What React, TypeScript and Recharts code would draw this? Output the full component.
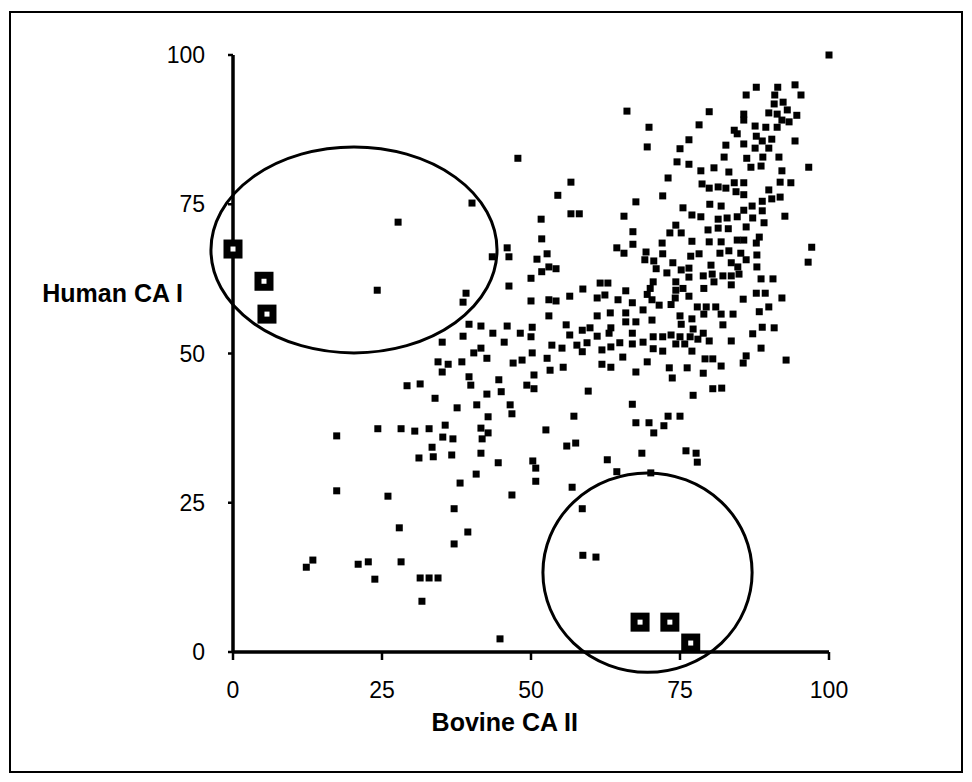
import React from 'react';
import { ScatterChart, Scatter, XAxis, YAxis, ReferenceArea } from 'recharts';

const xTicks = [0, 25, 50, 75, 100];
const yTicks = [0, 25, 50, 75, 100];

// each pair is [bovine CA II, human CA I]
const boxedPts = [[0, 67.5], [5.2, 62.1], [5.7, 56.6], [68.3, 5.0], [73.3, 5.0], [76.8, 1.5]];

const leftOvalPts = [[27.7, 72.0], [24.2, 60.6], [40.1, 75.2]];

const lowerLeftPts = [
  [29.2, 44.6], [31.4, 44.9], [33.9, 42.5], [34.4, 48.6],
  [17.4, 36.2], [24.3, 37.4], [28.2, 37.4], [30.5, 37.0], [32.9, 37.4], [33.4, 34.3], [31.2, 32.5], [33.6, 32.7],
  [17.4, 27.0], [26.0, 26.1], [27.9, 20.8], [13.4, 15.4], [12.3, 14.2], [21.0, 14.7], [22.7, 15.1], [28.2, 15.1],
  [23.8, 12.2], [31.4, 12.4], [32.9, 12.4], [34.4, 12.4], [31.7, 8.5],
];

const lowerMidPts = [
  [36.7, 33.0], [41.6, 33.3], [44.5, 31.7], [50.3, 32.0], [50.8, 30.8], [40.8, 29.8], [38.1, 28.3], [50.8, 28.6],
  [46.8, 26.3], [56.9, 27.6], [62.8, 32.2], [64.4, 30.2], [37.1, 24.0], [58.6, 24.0], [39.4, 20.1], [37.1, 18.1],
  [58.7, 16.2], [60.9, 15.9], [44.8, 2.2], [68.6, 33.3], [76.0, 33.7], [77.7, 33.3], [77.9, 31.8], [70.1, 30.0],
];

const upperMidPts = [
  [66.1, 90.6], [47.8, 82.7], [56.7, 78.7], [54.5, 76.5], [56.7, 73.4], [58.1, 73.4], [51.7, 72.5], [67.6, 75.4],
  [65.6, 73.0], [67.1, 70.4], [51.8, 69.2], [67.1, 68.3], [64.4, 67.7], [46.0, 67.7],
];

const centralPts = [
  [43.5, 66.2], [46.3, 66.2], [51.0, 65.8], [52.7, 66.7], [53.0, 64.5], [51.8, 63.7], [54.2, 64.2], [50.0, 62.6],
  [65.6, 66.8], [46.3, 61.3], [39.1, 60.1], [38.6, 58.6], [50.0, 58.8], [53.0, 59.0], [54.2, 58.8], [56.5, 59.6],
  [58.7, 60.8], [61.6, 61.8], [62.9, 61.8], [61.1, 59.3], [62.4, 59.8], [64.6, 59.0], [65.9, 60.5], [67.0, 58.5],
  [53.0, 56.3], [39.6, 54.9], [41.6, 54.6], [46.0, 54.6], [50.2, 54.4], [55.9, 54.8], [58.6, 53.9], [59.9, 54.3],
  [61.1, 56.3], [63.3, 56.8], [65.9, 56.8], [65.9, 55.3], [63.4, 54.3], [67.6, 55.3], [35.1, 51.9], [38.6, 52.9],
  [43.6, 53.4], [45.5, 51.9], [48.2, 53.4], [50.0, 52.8], [56.5, 53.1], [61.1, 52.9], [63.1, 53.4], [67.0, 53.4],
  [67.0, 51.6], [41.6, 50.9], [53.5, 51.4], [55.2, 50.9], [57.7, 51.4], [59.4, 51.8], [63.4, 51.1], [64.9, 51.8],
  [36.1, 48.2], [38.4, 48.6], [40.4, 50.1], [42.6, 49.2], [47.0, 48.4], [48.5, 48.9], [50.2, 50.1], [52.7, 49.2],
  [58.6, 50.3], [61.9, 50.6], [61.9, 48.2], [63.4, 47.7], [65.4, 49.4], [67.6, 46.9], [35.1, 46.9], [53.2, 47.2],
  [55.4, 47.7], [50.5, 46.4], [39.6, 46.1], [44.6, 45.6], [39.9, 44.7], [49.3, 44.7], [50.5, 44.1], [45.0, 43.6],
  [42.6, 43.2], [59.6, 43.7], [37.6, 40.9], [40.9, 41.4], [46.5, 41.4], [46.8, 39.9], [67.0, 41.5], [42.8, 39.4],
  [57.2, 39.5], [35.6, 38.0], [41.6, 37.5], [42.8, 36.7], [52.5, 37.2], [67.6, 38.4], [35.2, 36.0], [36.9, 35.7],
  [41.8, 35.7], [56.0, 34.5], [57.5, 35.0],
];

const rightMidPts = [
  [69.3, 67.0], [72.1, 66.7], [76.8, 66.3], [78.2, 66.7], [81.7, 66.8], [83.2, 67.2], [85.2, 66.8], [87.9, 66.5],
  [96.5, 65.3], [69.1, 65.7], [70.6, 65.5], [73.8, 65.2], [76.5, 64.3], [75.2, 64.0], [80.2, 64.8], [83.6, 65.2],
  [84.7, 64.5], [86.1, 65.7], [87.9, 64.5], [71.0, 64.2], [72.8, 63.5], [76.5, 62.8], [78.9, 63.0], [80.4, 63.3],
  [82.2, 63.0], [83.6, 63.0], [84.9, 63.3], [88.6, 62.5], [90.6, 62.5], [70.5, 62.0], [74.3, 62.0], [80.7, 62.0],
  [83.6, 61.5], [70.0, 60.9], [74.3, 60.6], [75.5, 60.9], [79.0, 60.9], [87.8, 60.1], [89.3, 60.1], [69.5, 59.9],
  [74.2, 59.3], [76.5, 59.6], [85.6, 59.1], [92.1, 59.3], [70.3, 59.0], [71.5, 58.1], [73.5, 58.2], [68.8, 57.3],
  [77.9, 57.8], [79.4, 57.8], [81.0, 57.8], [88.3, 57.0], [89.9, 57.8], [75.0, 56.3], [77.0, 55.8], [79.0, 56.6],
  [81.9, 56.6], [83.9, 56.6], [70.3, 55.6], [75.2, 54.9], [82.2, 54.8], [88.8, 54.4], [90.8, 54.3], [77.2, 54.1],
  [78.9, 53.4], [87.2, 53.3], [70.5, 52.8], [72.1, 52.8], [73.5, 53.1], [75.0, 52.8], [76.7, 52.8], [78.0, 52.4],
  [79.9, 52.1], [83.6, 52.1], [68.8, 51.9], [74.3, 51.6], [75.8, 51.6], [70.5, 50.8], [72.1, 50.4], [77.0, 50.4],
  [88.6, 50.9], [86.1, 49.6], [92.8, 48.9], [69.5, 48.6], [79.2, 49.1], [80.5, 49.1], [85.6, 48.4], [81.9, 47.9],
  [73.2, 47.6], [76.2, 47.6], [78.9, 46.7], [73.7, 45.9], [82.0, 44.2], [80.5, 44.1], [77.2, 43.0], [73.0, 39.5],
  [75.0, 39.5], [69.8, 38.4], [72.3, 37.9], [70.6, 36.7],
];

const topRightPts = [
  [100, 100], [87.8, 94.6], [91.4, 94.6], [94.3, 95.0], [86.1, 93.3], [90.9, 93.3], [95.3, 93.3], [90.8, 91.8],
  [92.3, 92.1], [79.9, 90.5], [85.7, 90.1], [89.9, 90.3], [91.3, 90.1], [93.0, 90.8], [94.6, 89.9], [92.1, 89.1],
  [85.7, 89.1], [93.3, 88.8], [78.2, 88.3], [69.8, 87.9], [87.6, 88.1], [89.4, 87.9], [91.3, 87.9], [84.6, 86.8],
  [87.8, 86.4], [84.1, 87.4], [76.5, 85.8], [88.8, 85.6], [90.4, 85.9], [94.3, 85.6], [69.5, 84.6], [75.0, 84.3],
  [82.7, 84.9], [85.7, 85.1], [87.6, 84.4], [89.9, 84.4], [82.4, 82.9], [86.2, 82.7], [88.9, 82.9], [91.6, 82.9],
  [74.5, 82.1], [76.5, 81.7], [78.5, 80.6], [80.7, 81.1], [83.2, 80.4], [86.9, 81.2], [88.6, 81.4], [92.1, 80.6],
  [96.6, 81.2], [73.0, 79.4], [78.7, 78.4], [79.9, 77.7], [81.4, 77.9], [82.7, 77.7], [84.1, 78.6], [85.7, 78.6],
  [89.9, 77.4], [91.8, 78.7], [93.6, 78.6], [72.1, 76.4], [84.4, 77.1], [85.7, 76.6], [80.0, 75.0], [81.9, 74.7],
  [87.1, 74.7], [88.8, 75.5], [90.4, 75.9], [91.8, 76.2], [75.5, 74.4], [77.0, 73.2], [78.5, 72.9], [81.4, 72.5],
  [82.9, 72.7], [84.6, 72.9], [85.7, 74.0], [87.2, 72.7], [88.8, 73.9], [92.6, 73.0], [74.3, 71.5], [73.3, 70.2],
  [75.2, 70.2], [79.7, 70.7], [81.4, 71.0], [83.1, 70.9], [86.1, 71.2], [89.1, 71.9], [88.3, 69.5], [77.0, 68.8],
  [79.9, 68.7], [81.9, 68.7], [84.6, 69.0], [85.7, 69.0], [87.8, 68.5], [97.1, 67.8], [72.0, 68.5],
];

// ellipse bounding boxes in data units
const leftOval = { x1: -3.7, x2: 44.3, y1: 50.1, y2: 84.6 };
const lowerOval = { x1: 52.0, x2: 87.1, y1: -3.4, y2: 30.0 };

const toRows = (pts: number[][]) => pts.map(([x, y]) => ({ x, y }));
const plainRows = toRows([
  ...leftOvalPts, ...lowerLeftPts, ...lowerMidPts, ...upperMidPts, ...centralPts, ...rightMidPts, ...topRightPts,
]);
const boxedRows = toRows(boxedPts);

const font = 'Liberation Sans, Arial, Helvetica, sans-serif';

const Dot = (p: any) => <rect x={p.cx - 3.5} y={p.cy - 3.5} width={7} height={7} fill="#000" />;
const Boxed = (p: any) => (
  <g>
    <rect x={p.cx - 9.5} y={p.cy - 9.5} width={19} height={19} fill="#000" />
    <rect x={p.cx - 2.5} y={p.cy - 2.5} width={5} height={5} fill="#fff" />
  </g>
);
const Oval = (p: any) => (
  <ellipse cx={p.x + p.width / 2} cy={p.y + p.height / 2} rx={p.width / 2} ry={p.height / 2}
    fill="none" stroke="#000" strokeWidth={3} />
);

const XTitle = ({ viewBox }: any) => (
  <text x={viewBox.x + viewBox.width * 0.456} y={viewBox.y + 79} textAnchor="middle"
    fontFamily={font} fontWeight={700} fontSize={25} fill="#000">Bovine CA II</text>
);
const YTitle = ({ viewBox }: any) => (
  <text x={viewBox.x + 150} y={viewBox.y + 247} textAnchor="end"
    fontFamily={font} fontWeight={700} fontSize={25} fill="#000">Human CA I</text>
);

export default function App() {
  return (
    <div style={{ position: 'absolute', left: 0, top: 0, width: 972, height: 782, background: '#fff' }}>
      <div style={{
        position: 'absolute', left: 9, top: 11, width: 954, height: 762,
        border: '2px solid #000', boxSizing: 'border-box', pointerEvents: 'none',
      }} />
      <ScatterChart width={972} height={782} margin={{ top: 55, right: 143, bottom: 30, left: 33 }}>
        <XAxis type="number" dataKey="x" domain={[0, 100]} ticks={xTicks}
          height={100} tickSize={8} tickMargin={22} stroke="#000" strokeWidth={3.5}
          axisLine={{ stroke: '#000', strokeWidth: 3.5 }} tickLine={{ stroke: '#000', strokeWidth: 2.5 }}
          tick={{ fill: '#000', fontSize: 23, fontFamily: font, strokeWidth: 0 }} label={<XTitle />} />
        <YAxis type="number" dataKey="y" domain={[0, 100]} ticks={yTicks}
          width={200} tickSize={5} tickMargin={23} stroke="#000" strokeWidth={3.5}
          axisLine={{ stroke: '#000', strokeWidth: 3.5 }} tickLine={{ stroke: '#000', strokeWidth: 2.5 }}
          tick={{ fill: '#000', fontSize: 23, fontFamily: font, strokeWidth: 0 }} label={<YTitle />} />
        <ReferenceArea {...leftOval} ifOverflow="visible" shape={<Oval />} />
        <ReferenceArea {...lowerOval} ifOverflow="visible" shape={<Oval />} />
        <Scatter data={plainRows} shape={<Dot />} isAnimationActive={false} />
        <Scatter data={boxedRows} shape={<Boxed />} isAnimationActive={false} />
      </ScatterChart>
    </div>
  );
}
